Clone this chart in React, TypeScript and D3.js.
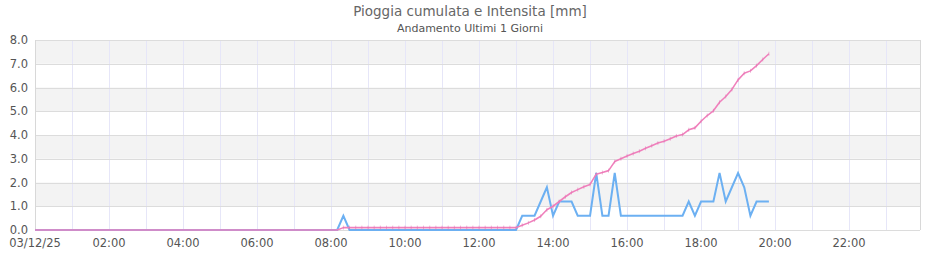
import React from "react";
import * as d3 from "d3";

const TITLE = "Pioggia cumulata e Intensita [mm]";
const SUBTITLE = "Andamento Ultimi 1 Giorni";
const Y_TICKS = [0, 1, 2, 3, 4, 5, 6, 7, 8];
const X_TICK_HOURS = [0, 2, 4, 6, 8, 10, 12, 14, 16, 18, 20, 22];
const DATE_LABEL = "03/12/25";

// 10-minute samples, 00:00 .. 19:50
const intensity = [
  0, 0, 0, 0, 0, 0, // 00
  0, 0, 0, 0, 0, 0, // 01
  0, 0, 0, 0, 0, 0, // 02
  0, 0, 0, 0, 0, 0, // 03
  0, 0, 0, 0, 0, 0, // 04
  0, 0, 0, 0, 0, 0, // 05
  0, 0, 0, 0, 0, 0, // 06
  0, 0, 0, 0, 0, 0, // 07
  0, 0, 0.6, 0, 0, 0, // 08
  0, 0, 0, 0, 0, 0, // 09
  0, 0, 0, 0, 0, 0, // 10
  0, 0, 0, 0, 0, 0, // 11
  0, 0, 0, 0, 0, 0, // 12
  0, 0.6, 0.6, 0.6, 1.2, 1.8, // 13
  0.6, 1.2, 1.2, 1.2, 0.6, 0.6, // 14
  0.6, 2.4, 0.6, 0.6, 2.4, 0.6, // 15
  0.6, 0.6, 0.6, 0.6, 0.6, 0.6, // 16
  0.6, 0.6, 0.6, 0.6, 1.2, 0.6, // 17
  1.2, 1.2, 1.2, 2.4, 1.2, 1.8, // 18
  2.4, 1.8, 0.6, 1.2, 1.2, 1.2, // 19
];

const cumulative = [
  0, 0, 0, 0, 0, 0, // 00
  0, 0, 0, 0, 0, 0, // 01
  0, 0, 0, 0, 0, 0, // 02
  0, 0, 0, 0, 0, 0, // 03
  0, 0, 0, 0, 0, 0, // 04
  0, 0, 0, 0, 0, 0, // 05
  0, 0, 0, 0, 0, 0, // 06
  0, 0, 0, 0, 0, 0, // 07
  0, 0, 0.1, 0.1, 0.1, 0.1, // 08
  0.1, 0.1, 0.1, 0.1, 0.1, 0.1, // 09
  0.1, 0.1, 0.1, 0.1, 0.1, 0.1, // 10
  0.1, 0.1, 0.1, 0.1, 0.1, 0.1, // 11
  0.1, 0.1, 0.1, 0.1, 0.1, 0.1, // 12
  0.1, 0.2, 0.3, 0.42, 0.58, 0.85, // 13
  1.0, 1.2, 1.4, 1.58, 1.7, 1.82, // 14
  1.92, 2.35, 2.42, 2.5, 2.88, 3.0, // 15
  3.12, 3.22, 3.32, 3.44, 3.55, 3.66, // 16
  3.74, 3.84, 3.96, 4.02, 4.22, 4.3, // 17
  4.58, 4.82, 5.02, 5.38, 5.62, 5.92, // 18
  6.32, 6.6, 6.7, 6.92, 7.18, 7.42, // 19
];

const DAY = new Date(2025, 11, 3, 0, 0, 0);
const times = intensity.map((_, i) => d3.timeMinute.offset(DAY, i * 10));

const W = 940;
const H = 260;
const LEFT = 35;
const RIGHT = 920;
const TOP = 40;
const BOTTOM = 230;

export default function App() {
  const x = d3
    .scaleTime()
    .domain([DAY, d3.timeMinute.offset(DAY, 23 * 60 + 55)])
    .range([LEFT, RIGHT]);
  const y = d3.scaleLinear().domain([0, 8]).range([BOTTOM, TOP]);

  const lineI = d3
    .line<number>()
    .x((_, i) => x(times[i]))
    .y((d) => y(d));

  const hours = d3.timeHour.range(d3.timeHour.offset(DAY, 1), d3.timeHour.offset(DAY, 24));
  const font = "'DejaVu Sans', sans-serif";

  return (
    <svg
      width={W}
      height={H}
      style={{ position: "absolute", left: 0, top: 0, background: "#fff" }}
      fontFamily={font}
    >
      {/* bands */}
      {Y_TICKS.slice(0, -1).map((t) =>
        t % 2 === 1 ? (
          <rect
            key={"b" + t}
            x={LEFT}
            y={y(t + 1)}
            width={RIGHT - LEFT}
            height={y(t) - y(t + 1)}
            fill="#f3f3f3"
          />
        ) : null
      )}
      {/* vertical grid */}
      {hours.map((h, i) => (
        <line
          key={"v" + i}
          x1={Math.round(x(h)) + 0.5}
          x2={Math.round(x(h)) + 0.5}
          y1={TOP}
          y2={BOTTOM}
          stroke="#e6e6f8"
          strokeWidth={1}
        />
      ))}
      {/* horizontal grid */}
      {Y_TICKS.map((t) => (
        <line
          key={"h" + t}
          x1={LEFT}
          x2={RIGHT}
          y1={Math.round(y(t)) + 0.5}
          y2={Math.round(y(t)) + 0.5}
          stroke="#dcdcdc"
          strokeWidth={1}
        />
      ))}
      <line x1={LEFT + 0.5} x2={LEFT + 0.5} y1={TOP} y2={BOTTOM} stroke="#d8d8d8" />
      <line x1={RIGHT + 0.5} x2={RIGHT + 0.5} y1={TOP} y2={BOTTOM} stroke="#d8d8d8" />

      {/* y labels */}
      {Y_TICKS.map((t) => (
        <text
          key={"yl" + t}
          x={28}
          y={y(t)}
          dy="0.35em"
          textAnchor="end"
          fontSize={11.5}
          fill="#555"
        >
          {t.toFixed(1)}
        </text>
      ))}
      {/* x labels */}
      {X_TICK_HOURS.map((h) => (
        <text
          key={"xl" + h}
          x={x(d3.timeHour.offset(DAY, h))}
          y={247}
          textAnchor="middle"
          fontSize={11.5}
          fill="#555"
        >
          {h === 0 ? DATE_LABEL : d3.timeFormat("%H:%M")(d3.timeHour.offset(DAY, h))}
        </text>
      ))}

      {/* intensity line */}
      <path
        d={lineI(intensity) || ""}
        fill="none"
        stroke="#6cb0f2"
        strokeWidth={2}
        strokeLinejoin="miter"
      />
      {/* cumulative line */}
      <path
        d={lineI(cumulative) || ""}
        fill="none"
        stroke="#f080bc"
        strokeWidth={1.6}
        strokeLinejoin="round"
      />
      {cumulative.map((v, i) =>
        i >= 50 ? (
          <line
            key={"m" + i}
            x1={x(times[i])}
            x2={x(times[i])}
            y1={y(v) - 2}
            y2={y(v) + 2}
            stroke="#e070b0"
            strokeWidth={0.8}
            opacity={0.6}
          />
        ) : null
      )}

      {/* titles */}
      <text x={470} y={16} textAnchor="middle" fontSize={13.5} fill="#666">
        {TITLE}
      </text>
      <text x={470} y={32} textAnchor="middle" fontSize={11} fill="#555">
        {SUBTITLE}
      </text>
    </svg>
  );
}
